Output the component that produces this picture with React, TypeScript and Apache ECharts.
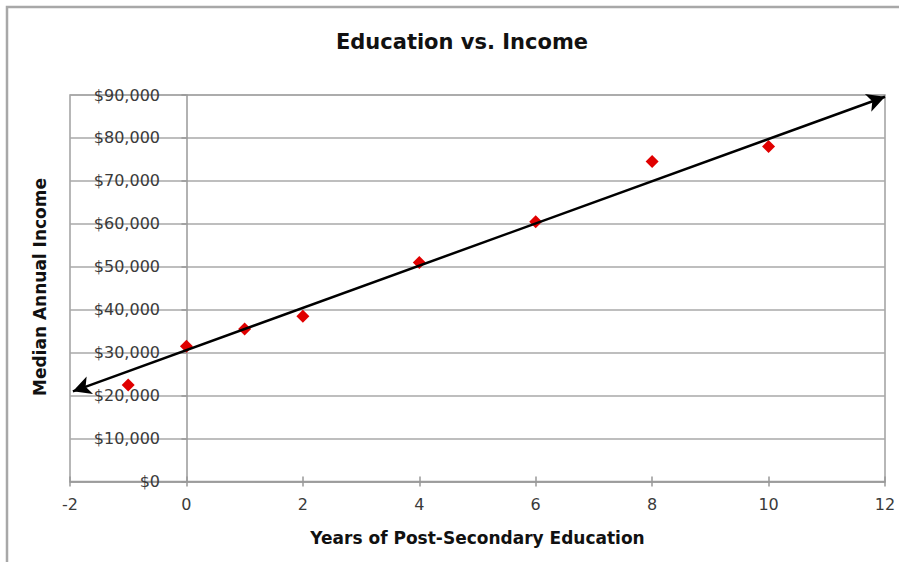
import React, { useEffect, useRef } from "react";
import * as echarts from "echarts";

// Years of post-secondary education and the median annual income observed
const years = [-1, 0, 1, 2, 4, 6, 8, 10];
const income = [22500, 31500, 35500, 38500, 51000, 60500, 74500, 78000];

// Fitted trend line, drawn from one arrow tip to the other
const trendStart = [-1.95, 21000];
const trendEnd = [12, 89600];

const xTicks = { min: -2, max: 12, interval: 2 };
const yTicks = { min: 0, max: 90000, interval: 10000 };

const FONT = "DejaVu Sans";

function money(v: number): string {
  return "$" + v.toLocaleString("en-US");
}

export default function App() {
  const ref = useRef<HTMLDivElement>(null);

  useEffect(() => {
    document.body.style.margin = "0";
    if (!ref.current) return;
    const chart = echarts.init(ref.current, null, { renderer: "svg" });

    chart.setOption({
      animation: false,
      backgroundColor: "#ffffff",
      grid: {
        left: 70,
        right: 14,
        top: 95,
        bottom: 80.5,
        containLabel: false,
        outerBoundsMode: "none",
        show: true,
        borderColor: "#a0a0a0",
        borderWidth: 1.5,
        backgroundColor: "transparent",
      },
      graphic: [
        {
          type: "rect",
          silent: true,
          shape: { x: 7, y: 7, width: 960, height: 620 },
          style: { fill: "none", stroke: "#a8a8a8", lineWidth: 2.5 },
        },
        {
          type: "text",
          x: 462,
          y: 42,
          style: {
            text: "Education vs. Income",
            font: `bold 21px "${FONT}"`,
            fill: "#111",
            align: "center",
            verticalAlign: "middle",
          },
        },
        {
          type: "text",
          x: 40,
          y: 287,
          rotation: Math.PI / 2,
          style: {
            text: "Median Annual Income",
            font: `bold 17px "${FONT}"`,
            fill: "#111",
            align: "center",
            verticalAlign: "middle",
          },
        },
      ],
      xAxis: [
        {
          type: "value",
          min: xTicks.min,
          max: xTicks.max,
          interval: xTicks.interval,
          name: "Years of Post-Secondary Education",
          nameLocation: "middle",
          nameGap: 48,
          nameTextStyle: { fontFamily: FONT, fontSize: 17, fontWeight: "bold", color: "#111" },
          axisLine: { show: true, onZero: false, lineStyle: { color: "#999", width: 1.5 } },
          axisTick: { show: true, length: 5, lineStyle: { color: "#999", width: 1.5 } },
          axisLabel: { fontFamily: FONT, fontSize: 16, color: "#3a3a3a", margin: 15 },
          splitLine: { show: false },
        },
        {
          type: "value",
          position: "bottom",
          min: xTicks.min,
          max: xTicks.max,
          interval: xTicks.interval,
          axisLine: { show: false, onZero: false },
          axisTick: { show: true, inside: true, length: 5, lineStyle: { color: "#999", width: 1.5 } },
          axisLabel: { show: false },
          splitLine: { show: false },
        },
      ],
      yAxis: [
        {
          // value labels sit just left of the zero-year line
          type: "value",
          min: yTicks.min,
          max: yTicks.max,
          interval: yTicks.interval,
          axisLine: { show: false, onZero: false },
          axisTick: { show: false },
          axisLabel: {
            inside: true,
            align: "right",
            margin: 90,
            fontFamily: FONT,
            fontSize: 16,
            color: "#3a3a3a",
            formatter: money,
          },
          splitLine: { show: true, lineStyle: { color: "#a8a8a8", width: 1.5 } },
        },
        {
          // the vertical axis line drawn through year 0
          type: "value",
          position: "left",
          min: yTicks.min,
          max: yTicks.max,
          interval: yTicks.interval,
          axisLine: { show: true, onZero: true, lineStyle: { color: "#999", width: 1.5 } },
          axisTick: { show: true, length: 5, lineStyle: { color: "#999", width: 1.5 } },
          axisLabel: { show: false },
          splitLine: { show: false },
        },
      ],
      series: [
        {
          type: "scatter",
          xAxisIndex: 0,
          yAxisIndex: 0,
          data: years.map((y, i) => [y, income[i]]),
          symbol: "diamond",
          symbolSize: 13,
          itemStyle: { color: "#e00000", opacity: 1 },
          z: 3,
          markLine: {
            silent: true,
            symbol: ["arrow", "arrow"],
            symbolSize: [14, 18],
            label: { show: false },
            lineStyle: { color: "#000", width: 2.5, type: "solid" },
            emphasis: { disabled: true },
            data: [[{ coord: trendStart }, { coord: trendEnd }]],
          },
        },
      ],
    });

    return () => chart.dispose();
  }, []);

  return <div ref={ref} style={{ width: 899, height: 562 }} />;
}
